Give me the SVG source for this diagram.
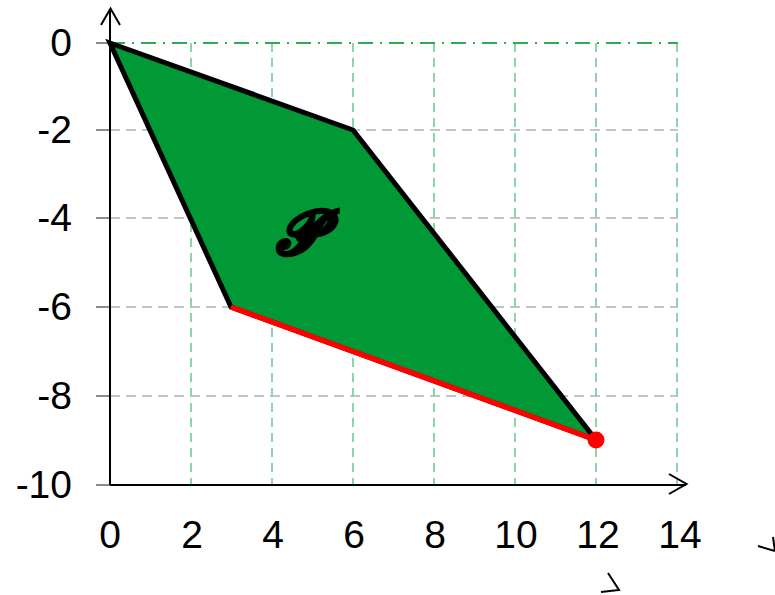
<svg xmlns="http://www.w3.org/2000/svg" width="775" height="595" viewBox="0 0 775 595">
<style>
.lbl{font-family:"Liberation Sans",Arial,sans-serif;font-size:39px;fill:#000}
.gx{stroke:#8ad6a6;stroke-width:2;stroke-dasharray:9 6;fill:none}
.gy{stroke:#c4c4c4;stroke-width:2;stroke-dasharray:10 6;fill:none}
.tick{stroke:#8c8c8c;stroke-width:2}
.ax{stroke:#000;stroke-width:2;fill:none}
</style>
<rect width="775" height="595" fill="#fff"/>
<g id="grid">
<path class="gy" d="M110 130H678M110 218H678M110 307H678M110 396H678M110 485H678"/>
<path class="tick" d="M96 43H110M96 130H110M96 218H110M96 307H110M96 396H110M96 485H110"/>
<path class="gx" d="M191 43V485M272 43V485M353 43V485M434 43V485M515 43V485M596 43V485M677 43V485"/>
<path d="M110 43H678" stroke="#2faa57" stroke-width="2" stroke-dasharray="15 7 2 7" fill="none"/>
</g>
<g id="polygon">
<polygon points="110,43 353,130 596,440 231,307" fill="#009936" stroke="#000" stroke-width="5" stroke-linejoin="miter"/>
<line x1="231" y1="307" x2="596" y2="440" stroke="#ff0000" stroke-width="5.5"/>
<circle cx="596" cy="440" r="8.5" fill="#ff0000"/>
<text x="298" y="254" text-anchor="middle" stroke="#000" stroke-width="2.2" style="font-family:'DejaVu Serif','Liberation Serif',serif;font-size:62px;font-weight:bold;font-style:italic">𝓟</text>
</g>
<g id="axes">
<path class="ax" d="M110 485V9M110 485H686"/>
<path class="ax" d="M101 25L110.5 8.5L120 25M669 474L686.5 484L669 494"/>
</g>
<g id="labels">
<text class="lbl" x="72" y="56" text-anchor="end">0</text>
<text class="lbl" x="72" y="143" text-anchor="end">-2</text>
<text class="lbl" x="72" y="231" text-anchor="end">-4</text>
<text class="lbl" x="72" y="320" text-anchor="end">-6</text>
<text class="lbl" x="72" y="409" text-anchor="end">-8</text>
<text class="lbl" x="72" y="498" text-anchor="end">-10</text>
<text class="lbl" x="110" y="548" text-anchor="middle">0</text>
<text class="lbl" x="192" y="548" text-anchor="middle">2</text>
<text class="lbl" x="273" y="548" text-anchor="middle">4</text>
<text class="lbl" x="354" y="548" text-anchor="middle">6</text>
<text class="lbl" x="435" y="548" text-anchor="middle">8</text>
<text class="lbl" x="516" y="548" text-anchor="middle">10</text>
<text class="lbl" x="598" y="548" text-anchor="middle">12</text>
<text class="lbl" x="680" y="548" text-anchor="middle">14</text>
</g>
<g id="marks" fill="none" stroke="#000" stroke-width="2">
<path d="M608 573L619 590L601 592"/>
<path d="M758 546L775 551M773 537L775 551"/>
</g>
</svg>
